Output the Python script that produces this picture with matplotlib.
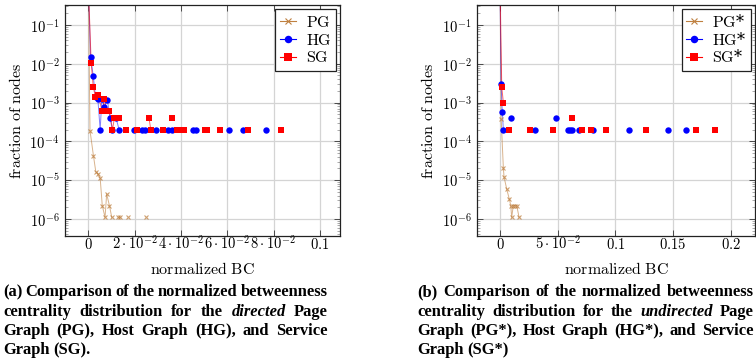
import numpy as np
import matplotlib
matplotlib.use('Agg')
import matplotlib.pyplot as plt
from matplotlib.lines import Line2D
from matplotlib.ticker import FixedLocator, NullFormatter

nan = np.nan

# ---------------- data: directed graphs ----------------
pg_x = [0, 0.0007, 0.0022, 0.0032, 0.0041, 0.0051, 0.0060, 0.0072, 0.0079, 0.0091, 0.0101,
        nan, 0.0130, 0.0138, nan, 0.0170, nan, 0.0249]
pg_y = [0.97, 1.9e-4, 4.2e-5, 1.66e-5, 1.45e-5, 1.12e-5, 2.2e-6, 1.1e-6, 4.4e-6, 2.2e-6, 1.1e-6,
        nan, 1.1e-6, 1.1e-6, nan, 1.1e-6, nan, 1.1e-6]

hg_x = [0, 0.00095, 0.0021, 0.0031, 0.0041, 0.0051, 0.0058, 0.0069, 0.0082, 0.0094, 0.0104,
        nan, 0.0120, 0.0133, nan, 0.0197, nan, 0.0233, 0.0245, nan, 0.0291, nan, 0.0346, 0.0360,
        nan, 0.0454, 0.0464, nan, 0.0608, nan, 0.0670, nan, 0.0768]
hg_y = [0.97, 0.0152, 0.00485, 0.00137, 0.00122, 1.97e-4, 0.00122, 7.8e-4, 0.00117, 3.9e-4, 1.97e-4,
        nan, 3.9e-4, 1.97e-4, nan, 1.97e-4, nan, 1.97e-4, 1.97e-4, nan, 1.97e-4, nan, 1.97e-4, 1.97e-4,
        nan, 1.97e-4, 1.97e-4, nan, 1.97e-4, nan, 1.97e-4, nan, 1.97e-4]

sg_x = [0, 0.0012, 0.0021, 0.0030, 0.0041, 0.0060, 0.0069, 0.0079, 0.0091, 0.0104, 0.0112, 0.0133,
        nan, 0.0162, nan, 0.0210, nan, 0.0262, 0.0270, nan, 0.0321, nan, 0.0360, nan,
        0.0382, 0.0396, 0.0415, nan, 0.0504, 0.0513, nan, 0.0569, nan, 0.0688, nan, 0.0830]
sg_y = [0.97, 0.0107, 0.00257, 0.00142, 0.00157, 6.1e-4, 0.00122, 6.1e-4, 6.1e-4, 1.97e-4, 3.9e-4, 3.9e-4,
        nan, 1.97e-4, nan, 1.97e-4, nan, 3.9e-4, 1.97e-4, nan, 1.97e-4, nan, 3.9e-4, nan,
        1.97e-4, 1.97e-4, 1.97e-4, nan, 1.97e-4, 1.97e-4, nan, 1.97e-4, nan, 1.97e-4, nan, 1.97e-4]

# ---------------- data: undirected graphs ----------------
pgu_x = [0, 0.0010, 0.0029, 0.0035, 0.0058, 0.0081, 0.0093, 0.0101, 0.0115, 0.0130, 0.0145, 0.0165]
pgu_y = [0.97, 3.7e-4, 2.0e-5, 1.2e-5, 5.9e-6, 3.2e-6, 2.2e-6, 1.1e-6, 2.2e-6, 2.2e-6, 2.2e-6, 1.1e-6]

hgu_x = [0, 0.0009, 0.0020, 0.0029, nan, 0.0093, nan, 0.0303, nan, 0.0483, nan,
         0.0585, 0.0606, 0.0628, nan, 0.0687, nan, 0.0808, nan, 0.1118, nan, 0.1453, nan, 0.1616]
hgu_y = [0.97, 3.0e-3, 5.6e-4, 1.95e-4, nan, 3.9e-4, nan, 1.95e-4, nan, 3.9e-4, nan,
         1.95e-4, 1.95e-4, 1.95e-4, nan, 1.95e-4, nan, 1.95e-4, nan, 1.95e-4, nan, 1.95e-4, nan, 1.95e-4]

sgu_x = [0, 0.0015, 0.0029, nan, 0.0074, nan, 0.0260, nan, 0.0462, nan, 0.0627, nan,
         0.0713, nan, 0.0789, nan, 0.0919, nan, 0.1265, nan, 0.1698, nan, 0.1863]
sgu_y = [0.97, 2.48e-3, 1.0e-3, nan, 1.95e-4, nan, 1.95e-4, nan, 1.95e-4, nan, 3.9e-4, nan,
         1.95e-4, nan, 1.95e-4, nan, 1.95e-4, nan, 1.95e-4, nan, 1.95e-4, nan, 1.95e-4]

labels_a = ['$\\mathrm{PG}$', '$\\mathrm{HG}$', '$\\mathrm{SG}$']
labels_b = ['$\\mathrm{PG}$*', '$\\mathrm{HG}$*', '$\\mathrm{SG}$*']

xticks_a = [0, 0.02, 0.04, 0.06, 0.08, 0.1]
xticklabels_a = ['$0$', r'$2\cdot10^{-2}$', r'$4\cdot10^{-2}$', r'$6\cdot10^{-2}$', r'$8\cdot10^{-2}$', '$0.1$']
xticks_b = [0, 0.05, 0.1, 0.15, 0.2]
xticklabels_b = ['$0$', r'$5\cdot10^{-2}$', '$0.1$', '$0.15$', '$0.2$']
yticks = [1e-6, 1e-5, 1e-4, 1e-3, 1e-2, 1e-1]
yticklabels = ['$10^{-6}$', '$10^{-5}$', '$10^{-4}$', '$10^{-3}$', '$10^{-2}$', '$10^{-1}$']

caption_a = [
    [('(a)', 'normal'), ('Comparison', 'normal'), ('of', 'normal'), ('the', 'normal'), ('normalized', 'normal'), ('betweenness', 'normal')],
    [('centrality', 'normal'), ('distribution', 'normal'), ('for', 'normal'), ('the', 'normal'), ('directed', 'italic'), ('Page', 'normal')],
    [('Graph', 'normal'), ('(PG),', 'normal'), ('Host', 'normal'), ('Graph', 'normal'), ('(HG),', 'normal'), ('and', 'normal'), ('Service', 'normal')],
    [('Graph', 'normal'), ('(SG).', 'normal')],
]
caption_b = [
    [('(b)', 'normal'), ('Comparison', 'normal'), ('of', 'normal'), ('the', 'normal'), ('normalized', 'normal'), ('betweenness', 'normal')],
    [('centrality', 'normal'), ('distribution', 'normal'), ('for', 'normal'), ('the', 'normal'), ('undirected', 'italic'), ('Page', 'normal')],
    [('Graph', 'normal'), ('(PG*),', 'normal'), ('Host', 'normal'), ('Graph', 'normal'), ('(HG*),', 'normal'), ('and', 'normal'), ('Service', 'normal')],
    [('Graph', 'normal'), ('(SG*)', 'normal')],
]

# ---------------- style ----------------
plt.rcParams['mathtext.fontset'] = 'cm'
plt.rcParams['font.family'] = ['DejaVu Serif']

W, H = 756, 364
fig = plt.figure(figsize=(W / 100, H / 100), dpi=100)

BROWN = (0.75, 0.5, 0.25)
BLUE = (0.0, 0.0, 1.0)
RED = (1.0, 0.0, 0.0)
styles = [
    dict(color=BROWN, marker='x', ms=3.2, mew=0.8, line_alpha=0.6, mark_alpha=0.75),
    dict(color=BLUE, marker='o', ms=4.6, mew=0, line_alpha=0.5, mark_alpha=1.0),
    dict(color=RED, marker='s', ms=4.5, mew=0, line_alpha=0.6, mark_alpha=1.0),
]


def make_axes(rect, series, labels, xlim, xticks, xticklabels):
    ax = fig.add_axes(rect)
    ax.set_yscale('log')
    handles = []
    for (x, y), st in zip(series, styles):
        x = np.array(x, dtype=float)
        y = np.array(y, dtype=float)
        ax.plot(x, y, '-', color=st['color'], lw=0.7, alpha=st['line_alpha'], zorder=2)
        if st['marker'] == 'x':
            ax.plot(x, y, ls='none', marker='x', ms=st['ms'], mew=st['mew'],
                    color=st['color'], alpha=st['mark_alpha'], zorder=3)
        else:
            ax.plot(x, y, ls='none', marker=st['marker'], ms=st['ms'], mew=0,
                    color=st['color'], zorder=3)
        handles.append(Line2D([0], [0], color=st['color'], lw=0.8,
                              marker=st['marker'], ms=st['ms'] + (0.8 if st['marker'] != 'x' else 0.6),
                              mew=st['mew'] if st['marker'] == 'x' else 0))
    ax.set_xlim(*xlim)
    ax.set_ylim(10 ** -6.44, 10 ** -0.485)
    ax.xaxis.set_major_locator(FixedLocator(xticks))
    ax.set_xticklabels(xticklabels)
    ax.yaxis.set_major_locator(FixedLocator(yticks))
    ax.set_yticklabels(yticklabels)
    minors = [m * 10.0 ** e for e in range(-7, 0) for m in range(2, 10)]
    ax.yaxis.set_minor_locator(FixedLocator(minors))
    ax.yaxis.set_minor_formatter(NullFormatter())
    ax.grid(True, which='major', color='#d4d4d4', lw=0.9, zorder=0)
    ax.set_axisbelow(True)
    ax.tick_params(axis='both', which='both', direction='in', top=True, right=True,
                   labelsize=10.5, color='#333333')
    ax.tick_params(axis='both', which='major', length=4, width=0.6)
    ax.tick_params(axis='y', which='minor', length=2.2, width=0.5, color='#888888')
    ax.tick_params(axis='x', pad=9.2)
    ax.tick_params(axis='y', pad=4.0)
    for lbl in ax.get_xticklabels():
        lbl.set_va('baseline')
    for s in ax.spines.values():
        s.set_linewidth(0.9)
        s.set_color('#222222')
    ax.set_xlabel(r'$\mathrm{normalized\ BC}$', fontsize=11.5, va='center')
    ax.xaxis.set_label_coords(0.5, -0.143)
    ax.set_ylabel(r'$\mathrm{fraction\ of\ nodes}$', fontsize=11.5, va='center', ha='center')
    ax.yaxis.set_label_coords(-0.176, 0.5)
    leg = ax.legend(handles, labels, loc='upper right',
                    bbox_to_anchor=(1.0, 1.0), borderaxespad=0.25, fontsize=11.5,
                    fancybox=False, framealpha=1.0, edgecolor='#222222',
                    handlelength=1.0, handletextpad=0.6, labelspacing=0.05,
                    borderpad=0.3)
    leg.get_frame().set_linewidth(0.9)
    return ax


ax1 = make_axes([65 / W, 1 - 236 / H, (340 - 65) / W, 231 / H],
                [(pg_x, pg_y), (hg_x, hg_y), (sg_x, sg_y)], labels_a,
                (-0.0101, 0.1087), xticks_a, xticklabels_a)
ax2 = make_axes([477.3 / W, 1 - 236 / H, (755 - 477.3) / W, 231 / H],
                [(pgu_x, pgu_y), (hgu_x, hgu_y), (sgu_x, sgu_y)], labels_b,
                (-0.0197, 0.221), xticks_b, xticklabels_b)

# ---------------- justified captions ----------------
renderer = fig.canvas.get_renderer()
CAP_FS = 11.9
CAP_FAMILY = 'Liberation Serif'


def text_width(s, style):
    t = fig.text(0, 0, s, fontsize=CAP_FS, fontweight='bold', fontstyle=style, family=CAP_FAMILY)
    w = t.get_window_extent(renderer).width
    t.remove()
    return w


space_w = text_width('a a', 'normal') - text_width('aa', 'normal')


def caption(lines, x0, x1, baselines):
    for i, (words, yb) in enumerate(zip(lines, baselines)):
        widths = [text_width(w, st) for w, st in words]
        last = i == len(lines) - 1
        if last or len(words) == 1:
            gap = space_w
        else:
            gap = ((x1 - x0) - sum(widths)) / (len(words) - 1)
        x = x0
        for (w, st), wd in zip(words, widths):
            fig.text(x / W, 1 - yb / H, w, fontsize=CAP_FS, fontweight='bold', fontstyle=st,
                     family=CAP_FAMILY, va='baseline', ha='left')
            x += wd + gap


baselines = [296, 315.5, 335, 354.5]
caption(caption_a, 3, 328, baselines)
caption(caption_b, 417, 754, baselines)

fig.savefig('out.png', dpi=100)
